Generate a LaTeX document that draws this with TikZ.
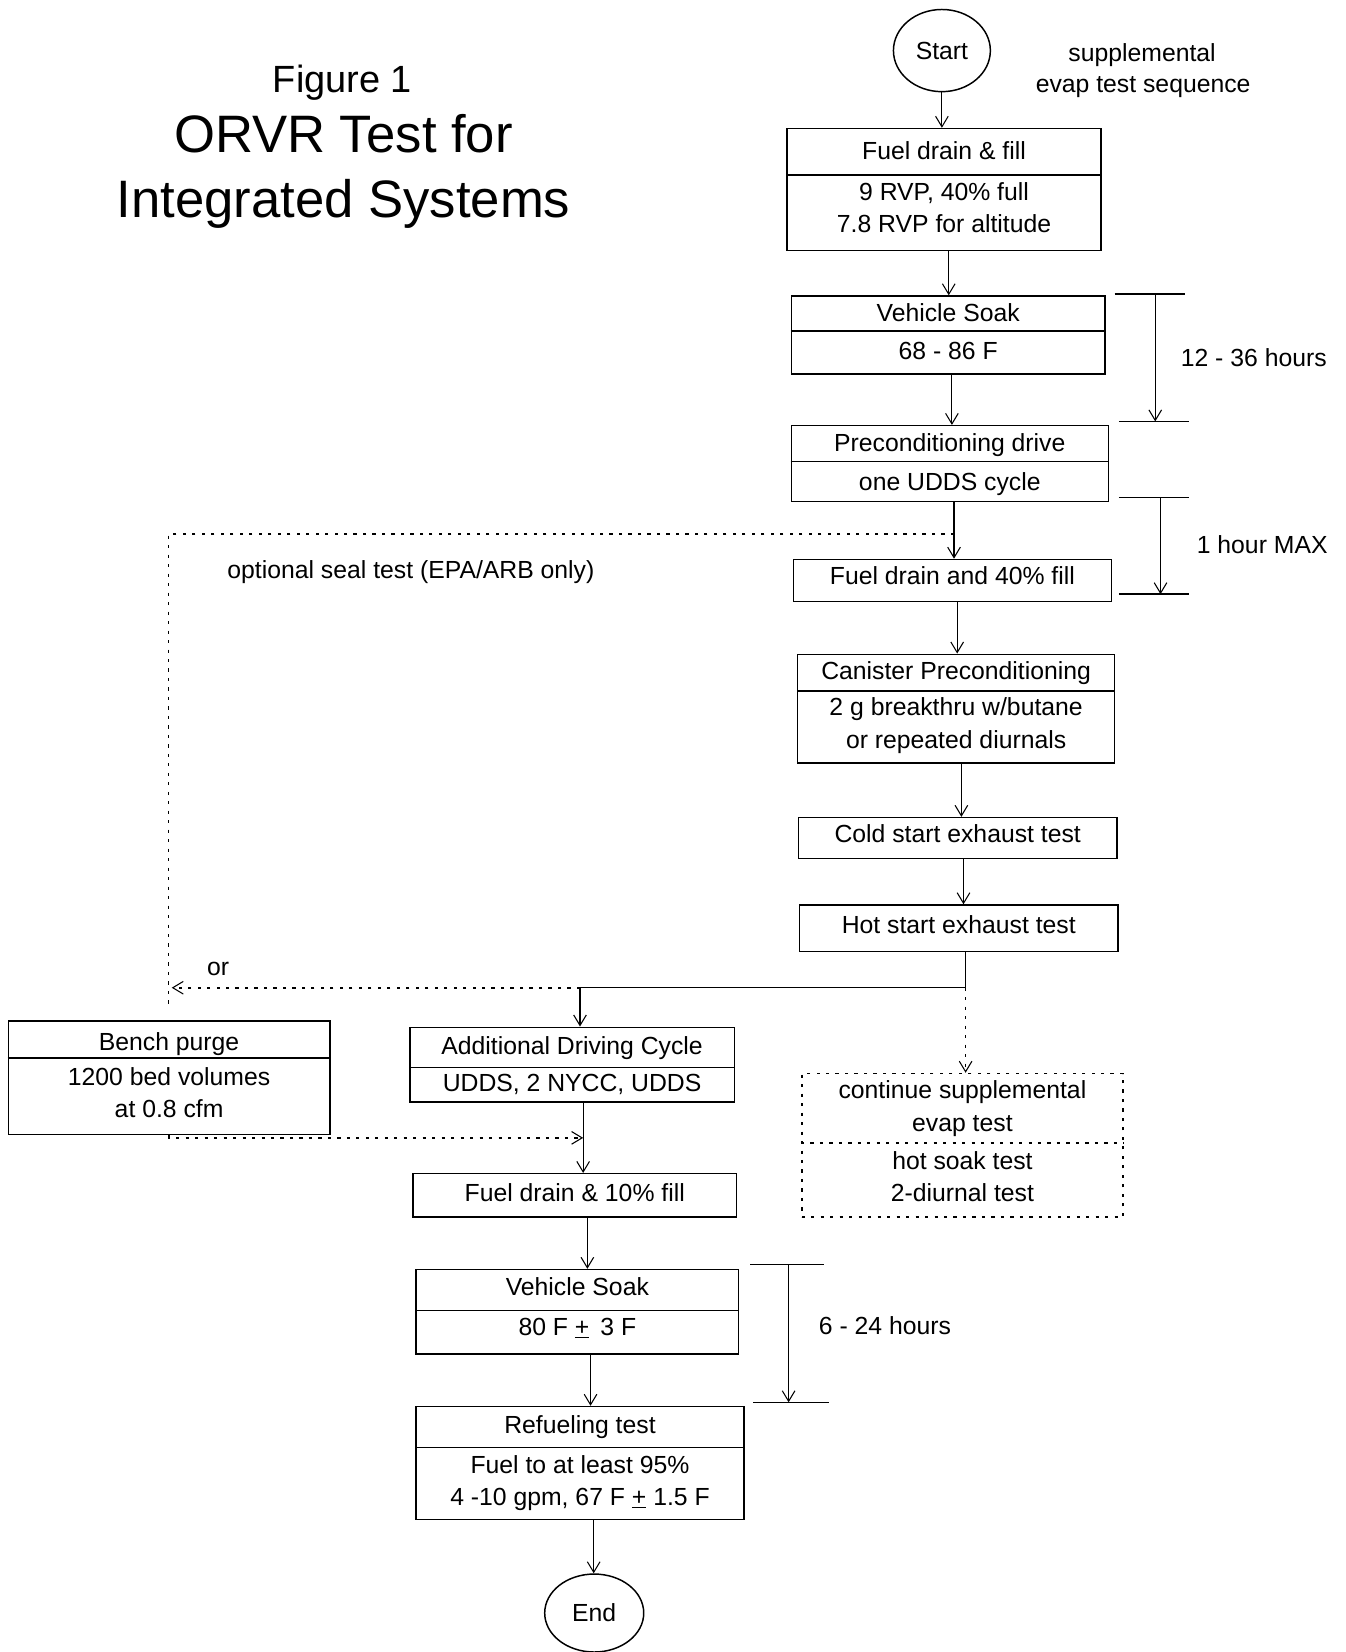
\documentclass[tikz,border=0pt]{standalone}
\usepackage{fontspec}
\setmainfont{Liberation Sans}
\usetikzlibrary{arrows.meta,shapes.geometric}
\newcommand\bxf{\fontsize{23.5}{31}\selectfont}
\begin{document}
\begin{tikzpicture}[x=1pt,y=-1pt,
  box/.style={draw,line width=1.4pt,inner sep=0pt},
  dbox/.style={draw,line width=1.6pt,dash pattern=on 3pt off 6pt,inner sep=0pt},
  t/.style={font=\bxf,anchor=base,inner sep=0pt},
  tip/.style={-{Straight Barb[length=10pt,width=12pt,line width=1pt]}},
  arr/.style={line width=1pt,tip},
  conn/.style={line width=1pt},
  bar/.style={line width=1.5pt},
  dots/.style={line width=1.6pt,dash pattern=on 3pt off 6pt},
  term/.style={ellipse,draw,line width=1.4pt,inner sep=0pt,font=\bxf},
]
\useasboundingbox (0,0) rectangle (1277,1568);

% title
\node[anchor=base,inner sep=0pt,font=\fontsize{36}{40}\selectfont] (fig) at (325,88) {Figure 1};
\node[anchor=base,inner sep=0pt,font=\fontsize{50}{56}\selectfont] (ti1) at (326,145) {ORVR Test for};
\node[anchor=base,inner sep=0pt,font=\fontsize{50}{56}\selectfont] (ti2) at (326,206) {Integrated Systems};

% start
\node[term,minimum width=92,minimum height=78] (start) at (894,48) {Start};
\node[t] (sup1) at (1084,58) {supplemental};
\node[t] (sup2) at (1085,88) {evap test sequence};

% box 1
\node[box,minimum width=298,minimum height=116] (b1) at (896,180) {};
\draw[box] (b1.west |- 0,166) -- (b1.east |- 0,166);
\node[t] (b1a) at (896,151) {Fuel drain \& fill};
\node[t] (b1b) at (896,190) {9 RVP, 40\% full};
\node[t] (b1c) at (896,221) {7.8 RVP for altitude};

% box 2
\node[box,minimum width=298,minimum height=74] (b2) at (900,318) {};
\draw[box] (b2.west |- 0,314) -- (b2.east |- 0,314);
\node[t] (b2a) at (900,305) {Vehicle Soak};
\node[t] (b2b) at (900,341) {68 - 86 F};

% box 3
\node[box,minimum width=301,minimum height=72] (b3) at (901.5,440) {};
\draw[box] (b3.west |- 0,438) -- (b3.east |- 0,438);
\node[t] (b3a) at (901.5,429) {Preconditioning drive};
\node[t] (b3b) at (901.5,466) {one UDDS cycle};

% box 4
\node[box,minimum width=302,minimum height=40] (b4) at (904,551) {};
\node[t] (b4a) at (904,555) {Fuel drain and 40\% fill};

% box 5
\node[box,minimum width=301,minimum height=103] (b5) at (907.5,672.5) {};
\draw[box] (b5.west |- 0,656) -- (b5.east |- 0,656);
\node[t] (b5a) at (907.5,645) {Canister Preconditioning};
\node[t] (b5b) at (907.5,679) {2 g breakthru w/butane};
\node[t] (b5c) at (907.5,710) {or repeated diurnals};

% box 6
\node[box,minimum width=302,minimum height=39] (b6) at (909,795.5) {};
\node[t] (b6a) at (909,800) {Cold start exhaust test};

% box 7
\node[box,minimum width=302,minimum height=44] (b7) at (910,881) {};
\node[t] (b7a) at (910,886) {Hot start exhaust test};

% bench purge
\node[box,minimum width=305,minimum height=108] (bench) at (160.5,1023) {};
\draw[box] (bench.west |- 0,1004) -- (bench.east |- 0,1004);
\node[t] (bpa) at (160.5,997) {Bench purge};
\node[t] (bpb) at (160.5,1030) {1200 bed volumes};
\node[t] (bpc) at (160.5,1061) {at 0.8 cfm};

% additional driving cycle
\node[box,minimum width=308,minimum height=71] (add) at (543,1010.5) {};
\draw[box] (add.west |- 0,1013) -- (add.east |- 0,1013);
\node[t] (ada) at (543,1001) {Additional Driving Cycle};
\node[t] (adb) at (543,1036) {UDDS, 2 NYCC, UDDS};

% continue supplemental (dotted)
\node[dbox,minimum width=305,minimum height=136] (cont) at (913.5,1087) {};
\draw[dots] (cont.west |- 0,1085) -- (cont.east |- 0,1085);
\node[t] (cta) at (913.5,1043) {continue supplemental};
\node[t] (ctb) at (913.5,1074) {evap test};
\node[t] (ctc) at (913.5,1110) {hot soak test};
\node[t] (ctd) at (913.5,1140) {2-diurnal test};

% fuel drain 10%
\node[box,minimum width=307,minimum height=41] (f10) at (545.5,1134.5) {};
\node[t] (f10a) at (545.5,1140) {Fuel drain \& 10\% fill};

% vehicle soak 2
\node[box,minimum width=306,minimum height=80] (b12) at (548,1245) {};
\draw[box] (b12.west |- 0,1244) -- (b12.east |- 0,1244);
\node[t] (b12a) at (548,1230) {Vehicle Soak};
\node[t] (b12b) at (548,1268) {80 F \underline{+}\, 3 F};

% refueling test
\node[box,minimum width=311,minimum height=107] (ref) at (550.5,1388.5) {};
\draw[box] (ref.west |- 0,1374) -- (ref.east |- 0,1374);
\node[t] (rfa) at (550.5,1361) {Refueling test};
\node[t] (rfb) at (550.5,1399) {Fuel to at least 95\%};
\node[t] (rfc) at (550.5,1429) {4 -10 gpm, 67 F \underline{+} 1.5 F};

% end
\node[term,minimum width=94,minimum height=74] (end) at (564,1531) {End};

% main column arrows
\draw[arr] (start.south) -- (start.south |- b1.north);
\draw[arr] (900.5,0 |- b1.south) -- (900.5,0 |- b2.north);
\draw[arr] (903.5,0 |- b2.south) -- (903.5,0 |- b3.north);
\draw[arr] (905.5,0 |- b3.south) -- (905.5,0 |- b4.north);
\draw[arr] (908.5,0 |- b4.south) -- (908.5,0 |- b5.north);
\draw[arr] (912.5,0 |- b5.south) -- (912.5,0 |- b6.north);
\draw[arr] (914.5,0 |- b6.south) -- (914.5,0 |- b7.north);

% branch after hot start
\coordinate (j2) at (916.5,937.5);
\coordinate (j3) at (550.5,937.5);
\draw[conn] (916.5,0 |- b7.south) -- (j2) -- (j3);
\draw[arr] (j3) -- (j3 |- add.north);
\coordinate (c3) at (163,937.5);
\draw[dots,tip] (j3) -- (c3);
\draw[dots,tip] (j2) -- (j2 |- cont.north);
\node[t] (or) at (207,926) {or};

% optional seal test dotted path
\coordinate (j1) at (905.5,507);
\coordinate (c1) at (160,507);
\coordinate (c2) at (160,957);
\draw[dots] (j1) -- (c1) -- (c2);
\node[t] (opt) at (390,549) {optional seal test (EPA/ARB only)};

% lower column
\coordinate (m1) at (553.5,1080);
\draw[arr] (553.5,0 |- add.south) -- (553.5,0 |- f10.north);
\draw[dots,tip] (bench.south) -- (bench.south |- m1) -- (m1);
\draw[arr] (557.5,0 |- f10.south) -- (557.5,0 |- b12.north);
\draw[arr] (560.5,0 |- b12.south) -- (560.5,0 |- ref.north);
\draw[arr] (563.5,0 |- ref.south) -- (563.5,0 |- end.north);

% time brackets
\draw[bar] (1058,279) -- (1125,279);
\draw[bar] (1062,400) -- (1129,400);
\draw[arr] (1096.5,279) -- (1096.5,400);
\node[t] (h1) at (1190,348) {12 - 36 hours};

\draw[bar] (1062,472) -- (1129,472);
\draw[bar] (1062,564) -- (1129,564);
\draw[arr] (1101.5,472) -- (1101.5,564);
\node[t] (h2) at (1198,525) {1 hour MAX};

\draw[bar] (712,1200) -- (782,1200);
\draw[bar] (715,1331) -- (787,1331);
\draw[arr] (748.5,1200) -- (748.5,1331);
\node[t] (h3) at (840,1267) {6 - 24 hours};
\end{tikzpicture}
\end{document}
